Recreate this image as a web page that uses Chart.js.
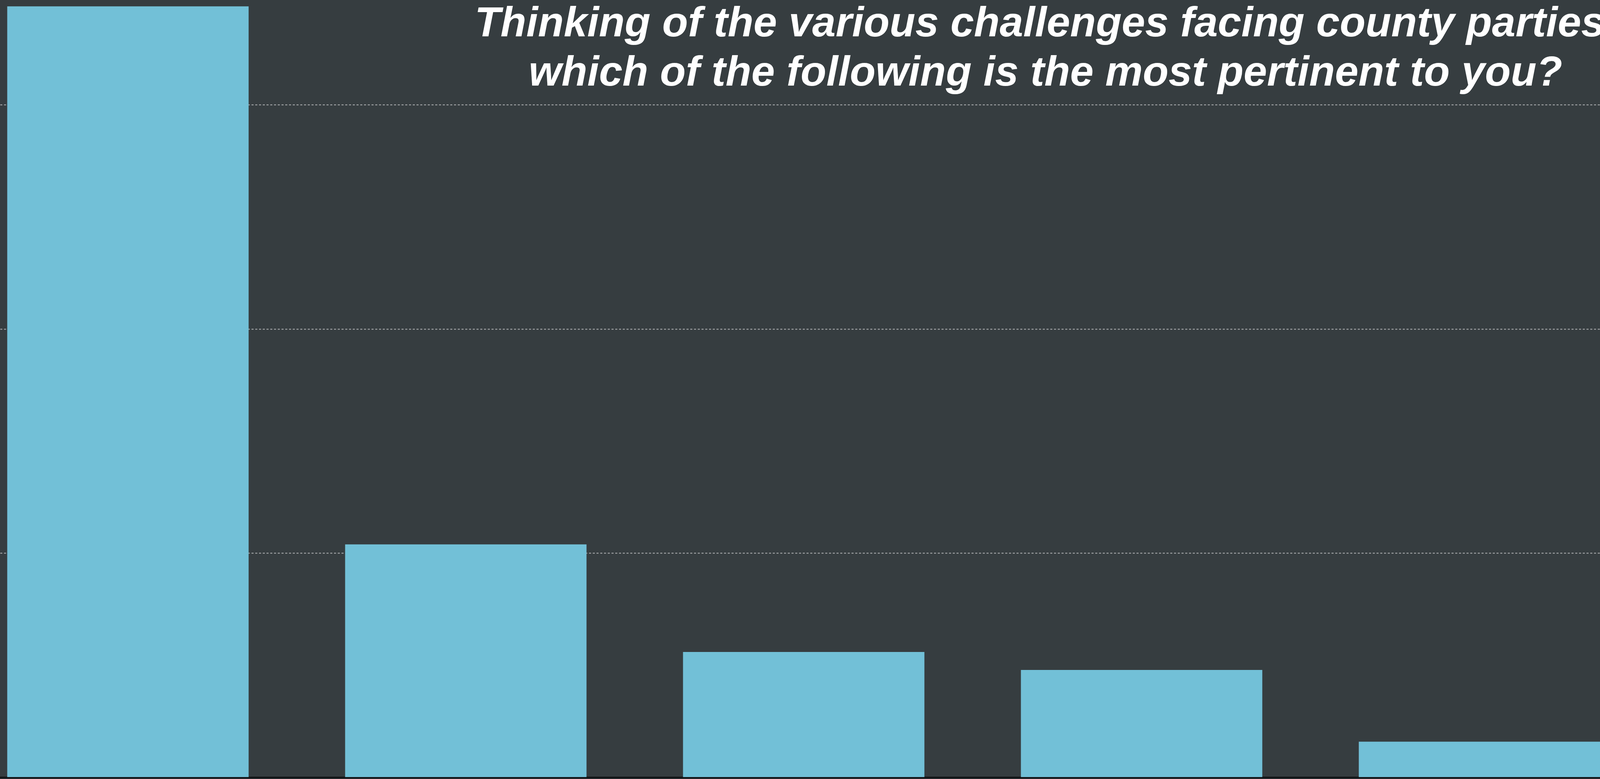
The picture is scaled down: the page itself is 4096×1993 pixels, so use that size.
<!DOCTYPE html>
<html>
<head>
<meta charset="utf-8">
<title>County party challenges</title>
<script src="https://cdn.jsdelivr.net/npm/chart.js@4.4.1/dist/chart.umd.min.js"></script>
<style>
  html, body { margin: 0; padding: 0; overflow: hidden; background: #363d40; }
  body { width: 4096px; height: 1993px; position: relative; }
  #challengesChart { position: absolute; left: -105px; top: -305px; }
</style>
</head>
<body>
<canvas id="challengesChart" width="4325" height="2320"></canvas>
<script>
// answer options (their labels sit below the visible crop)
const categories = ['Option 1', 'Option 2', 'Option 3', 'Option 4', 'Option 5'];
// share of respondents, %
const responses = [34.4, 10.4, 5.6, 4.8, 1.6];
const yTicks = { min: 0, max: 40, step: 10 };
const titleLines = [
  'Thinking of the various challenges facing county parties,',
  'which of the following is the most pertinent to you?'
];

// title is drawn over the plot, centred off to the right like the original
const overlayTitle = {
  id: 'overlayTitle',
  afterDraw(chart, args, opts) {
    const ctx = chart.ctx;
    ctx.save();
    ctx.font = opts.font;
    ctx.fillStyle = opts.color;
    ctx.textAlign = 'center';
    ctx.textBaseline = 'alphabetic';
    opts.lines.forEach((line, i) => {
      ctx.fillText(line, opts.x, opts.y + i * opts.lineHeight);
    });
    ctx.restore();
  }
};

const ctx = document.getElementById('challengesChart').getContext('2d');
new Chart(ctx, {
  type: 'bar',
  data: {
    labels: categories,
    datasets: [{
      label: 'Responses',
      data: responses,
      backgroundColor: '#72c0d7',
      borderWidth: 0,
      categoryPercentage: 0.8,
      barPercentage: 0.893
    }]
  },
  options: {
    responsive: false,
    animation: false,
    layout: { padding: { top: 0, left: 0, right: 0, bottom: 25.7 } },
    scales: {
      x: {
        ticks: { display: false },
        grid: { display: false, drawTicks: false },
        border: { display: true, color: '#111416', width: 4.6 }
      },
      y: {
        min: yTicks.min,
        max: yTicks.max,
        ticks: { display: false, stepSize: yTicks.step },
        grid: {
          drawTicks: false,
          lineWidth: 2.5,
          color: c => (c.tick && c.tick.value === 0) ? 'rgba(0,0,0,0)' : '#9b9ea0'
        },
        border: { display: false, dash: [5.4, 4.2] }
      }
    },
    plugins: {
      legend: { display: false },
      tooltip: { enabled: false },
      overlayTitle: {
        lines: titleLines,
        font: 'bold italic 108px "Liberation Sans", Arial, sans-serif',
        color: '#ffffff',
        x: 2781.5,
        y: 398.4,
        lineHeight: 126
      }
    }
  },
  plugins: [overlayTitle]
});
</script>
</body>
</html>
